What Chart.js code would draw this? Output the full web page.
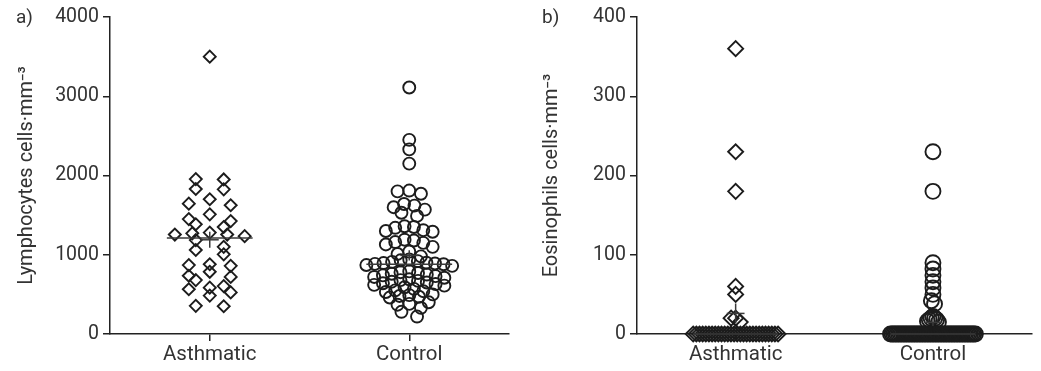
<!DOCTYPE html>
<html>
<head>
<meta charset="utf-8">
<script src="https://cdn.jsdelivr.net/npm/chart.js@4.4.0/dist/chart.umd.min.js"></script>
<style>
  body { margin: 0; background: #fff; width: 1041px; height: 371px; overflow: hidden; position: relative; font-family: Roboto, sans-serif; }
  .panel { position: absolute; top: 0; }
  .tag { position: absolute; top: 5px; font-size: 19px; color: #333; }
</style>
</head>
<body>
<div class="panel" style="left:0"><canvas id="lymph" width="520" height="371"></canvas></div>
<div class="panel" style="left:520px"><canvas id="eos" width="521" height="371"></canvas></div>
<div class="tag" style="left:16px">a)</div>
<div class="tag" style="left:542px">b)</div>

<script>
// Groups on the x axis
const groups = ['Asthmatic', 'Control'];

// a) Lymphocytes cells·mm-3
const lymphAsthmatic = [3500, 1955, 1950, 1830, 1825, 1700, 1645, 1625, 1510, 1450, 1425, 1385, 1350,
  1280, 1270, 1255, 1255, 1235, 1185, 1100, 1060, 1005, 880, 870, 860, 785, 735, 720, 680,
  605, 585, 565, 525, 485, 355, 350];
const lymphControl = [3110, 2450, 2330, 2150, 1810, 1800, 1770, 1640, 1620, 1600, 1570, 1530, 1490,
  1360, 1350, 1340, 1310, 1300, 1290, 1190, 1180, 1160, 1150, 1130, 1100, 1040, 1010, 980,
  940, 930, 920, 910, 900, 895, 890, 885, 880, 870, 860,
  790, 780, 770, 760, 750, 740, 730, 720, 710,
  690, 680, 670, 660, 650, 640, 630, 620, 610,
  590, 570, 550, 540, 530, 500, 490, 480, 470, 460, 400, 380, 370, 330, 280, 220];
const lymphTicks = [0, 1000, 2000, 3000, 4000];

// b) Eosinophils cells·mm-3
const eosAsthmatic = [360, 230, 180, 60, 50, 20, 20, 15,
  0, 0, 0, 0, 0, 0, 0, 0, 0, 0, 0, 0, 0, 0, 0, 0, 0, 0, 0, 0, 0, 0, 0, 0, 0, 0, 0, 0];
const eosControl = [230, 180, 90, 82, 74, 66, 58, 50, 42, 38, 22, 20, 20, 18, 18, 16, 15,
  0, 0, 0, 0, 0, 0, 0, 0, 0, 0, 0, 0, 0, 0, 0, 0, 0, 0, 0, 0, 0, 0, 0, 0, 0, 0,
  0, 0, 0, 0, 0, 0, 0, 0, 0, 0, 0, 0, 0, 0, 0, 0, 0, 0, 0, 0, 0, 0, 0, 0, 0, 0, 0, 0];
const eosTicks = [0, 100, 200, 300, 400];

Chart.defaults.font.family = 'Roboto, sans-serif';
Chart.defaults.color = '#333';

const median = a => {
  const s = [...a].sort((x, y) => x - y);
  const m = s.length >> 1;
  return s.length % 2 ? s[m] : (s[m - 1] + s[m]) / 2;
};
const mean = a => a.reduce((s, v) => s + v, 0) / a.length;
const sem = a => {
  const m = mean(a);
  return Math.sqrt(a.reduce((s, v) => s + (v - m) ** 2, 0) / (a.length - 1) / a.length);
};

// dot plot layout: values close together share a row; each row is as wide as
// its point count, and the whole column shrinks so the widest row fits
function swarm(values, centre, rowGap, maxUnit, halfWidth) {
  const sorted = [...values].sort((a, b) => b - a);
  const rows = [];
  sorted.forEach(v => {
    const row = rows[rows.length - 1];
    if (row && row[0] - v <= rowGap) row.push(v);
    else rows.push([v]);
  });
  const widest = Math.max(...rows.map(r => r.length));
  const unit = Math.min(maxUnit, halfWidth / widest);
  const pts = [];
  rows.forEach(row => {
    const n = row.length;
    const step = n > 1 ? 2 * unit * n / (n - 1) : 0;
    const slots = row.map((_, i) => i - (n - 1) / 2)
      .sort((a, b) => Math.abs(a) - Math.abs(b) || a - b);
    row.forEach((v, i) => pts.push({ x: centre + slots[i] * step, y: v }));
  });
  return pts;
}

function makeChart(id, series, styles, ticks, title, o) {
  const lines = [];
  const dots = [];
  series.forEach((vals, i) => {
    const c = 1 + 2 * i;
    const md = median(vals), m = mean(vals), se = sem(vals);
    const seg = (data, w) => ({ data, showLine: true, pointRadius: 0, borderColor: '#3a3a3a', borderWidth: w, clip: false });
    lines.push(seg([{ x: c - 0.43, y: md }, { x: c + 0.43, y: md }], 1.5));
    lines.push(seg([{ x: c, y: m - se }, { x: c, y: m + se }], 1.5));
    lines.push(seg([{ x: c - 0.09, y: m }, { x: c + 0.09, y: m }], 1.5));
    dots.push({
      data: swarm(vals, c, o.rowGap, 0.07, 0.43),
      pointStyle: styles[i],
      pointRadius: o.radius,
      pointBorderWidth: 1.9,
      pointBorderColor: '#1c1c1c',
      pointBackgroundColor: 'rgba(0,0,0,0)',
      showLine: false,
      clip: false
    });
  });

  const axisGrid = { drawOnChartArea: false, drawTicks: true, tickLength: 7, color: '#222', lineWidth: 1.5 };
  const axisBorder = { color: '#222', width: 1.5 };

  return new Chart(document.getElementById(id), {
    type: 'scatter',
    data: { datasets: [...lines, ...dots] },
    options: {
      responsive: false,
      animation: false,
      events: [],
      layout: { padding: { top: 17, right: o.right, left: 0, bottom: 0 } },
      plugins: { legend: { display: false }, tooltip: { enabled: false } },
      scales: {
        x: {
          type: 'linear', min: 0, max: 4,
          afterBuildTicks: s => { s.ticks = groups.map((g, i) => ({ value: 1 + 2 * i })); },
          afterFit: s => { s.height = 37; },
          ticks: { callback: v => groups[(v - 1) / 2], font: { size: 20.5 }, padding: 2, maxRotation: 0, autoSkip: false },
          grid: axisGrid,
          border: axisBorder
        },
        y: {
          min: 0, max: ticks[ticks.length - 1],
          afterBuildTicks: s => { s.ticks = ticks.map(v => ({ value: v })); },
          afterFit: s => { s.width = o.axisX; },
          ticks: { callback: v => String(v), font: { size: 19.5 }, padding: 4 },
          grid: axisGrid,
          border: axisBorder,
          title: { display: true, text: title, font: { size: 20 }, padding: { top: o.titlePad, bottom: 0 } }
        }
      }
    }
  });
}

makeChart('lymph', [lymphAsthmatic, lymphControl], ['rectRot', 'circle'], lymphTicks,
  'Lymphocytes cells\u00b7mm\u207b\u00b3', { right: 11, axisX: 110, titlePad: 15, rowGap: 90, radius: 6 });
makeChart('eos', [eosAsthmatic, eosControl], ['rectRot', 'circle'], eosTicks,
  'Eosinophils cells\u00b7mm\u207b\u00b3', { right: 6, axisX: 117, titlePad: 20, rowGap: 7, radius: 7.5 });
</script>
</body>
</html>
